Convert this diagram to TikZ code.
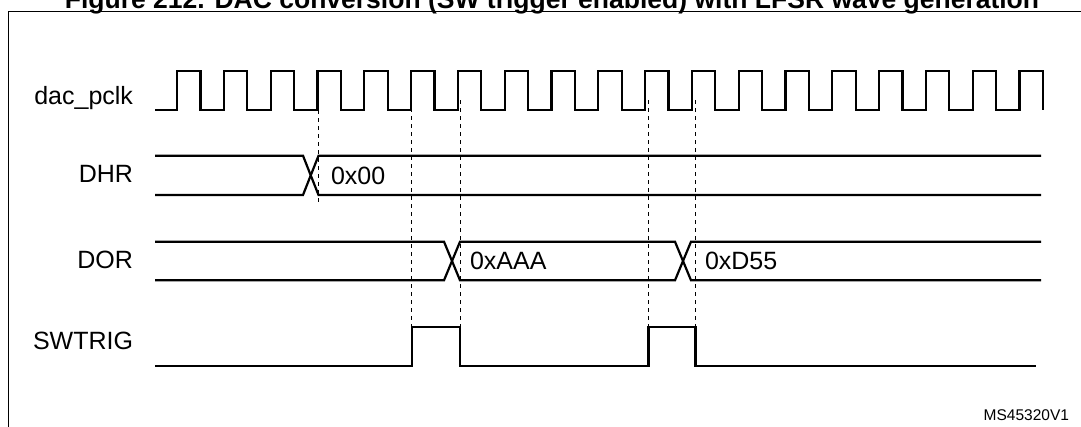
\documentclass[tikz,border=0pt]{standalone}
\usepackage{fontspec}
\setmainfont{Liberation Sans}
\usepackage{tikz}
\usetikzlibrary{positioning}

\begin{document}
\begin{tikzpicture}[x=1pt, y=-1pt]%
  \tikzset{signal/.style={draw, line width=2.2pt, line join=miter, black}}
  \tikzset{guide/.style={draw, line width=0.9pt, dash pattern=on 4pt off 4pt}}
  \tikzstyle{every node}=[inner sep=0pt, outer sep=0pt, font=\fontsize{25}{28}\selectfont]
  \useasboundingbox (0,0) rectangle (1081,426);

  \node[font=\bfseries\fontsize{26.5}{30}\selectfont, anchor=base] (title) at (552,8) {Figure 212. DAC conversion (SW trigger enabled) with LFSR wave generation};
  \draw[line width=1pt] (8.6,440) -- (8.6,11.7) -- (1090,11.7);

  % signal names
  \node[anchor=east] (clk) at (133,98) {dac\_pclk};
  \node[anchor=east] (dhr) at (133,174) {DHR};
  \node[anchor=east] (dor) at (133,260) {DOR};
  \node[anchor=east] (swt) at (133,341) {SWTRIG};

  % clock
  \draw[signal] (155,110) \foreach \k in {0,...,18} {
      -- ({177+46.8*\k},110) -- ({177+46.8*\k},71) -- ({200.4+46.8*\k},71) -- ({200.4+46.8*\k},110)};

  % DHR
  \draw[signal] (155,155.7) -- (303,155.7) -- (318.5,195) -- (1041,195);
  \draw[signal] (155,195) -- (303,195) -- (318.5,155.7) -- (1041,155.7);
  \node[anchor=west] (v00) at (331,176) {0x00};

  % DOR
  \draw[signal] (155,241.7) -- (444,241.7) -- (460,280.3) -- (675,280.3) -- (691,241.7) -- (1041,241.7);
  \draw[signal] (155,280.3) -- (444,280.3) -- (460,241.7) -- (675,241.7) -- (691,280.3) -- (1041,280.3);
  \node[anchor=west] (vaaa) at (470,261) {0xAAA};
  \node[anchor=west] (vd55) at (705,261) {0xD55};

  % SWTRIG
  \draw[signal] (155,366) -- (412,366) -- (412,327) -- (460,327) -- (460,366)
    -- (648.5,366) -- (648.5,327) -- (695.5,327) -- (695.5,366) -- (1036,366);

  \draw[guide] (318.5,110) -- (318.5,205);
  \foreach \x in {411.5,460,648.5,695.5} \draw[guide] (\x,100) -- (\x,327);

  \node[anchor=base east, font=\fontsize{15.5}{17}\selectfont] (ref) at (1069,420) {MS45320V1};
\end{tikzpicture}
\end{document}
